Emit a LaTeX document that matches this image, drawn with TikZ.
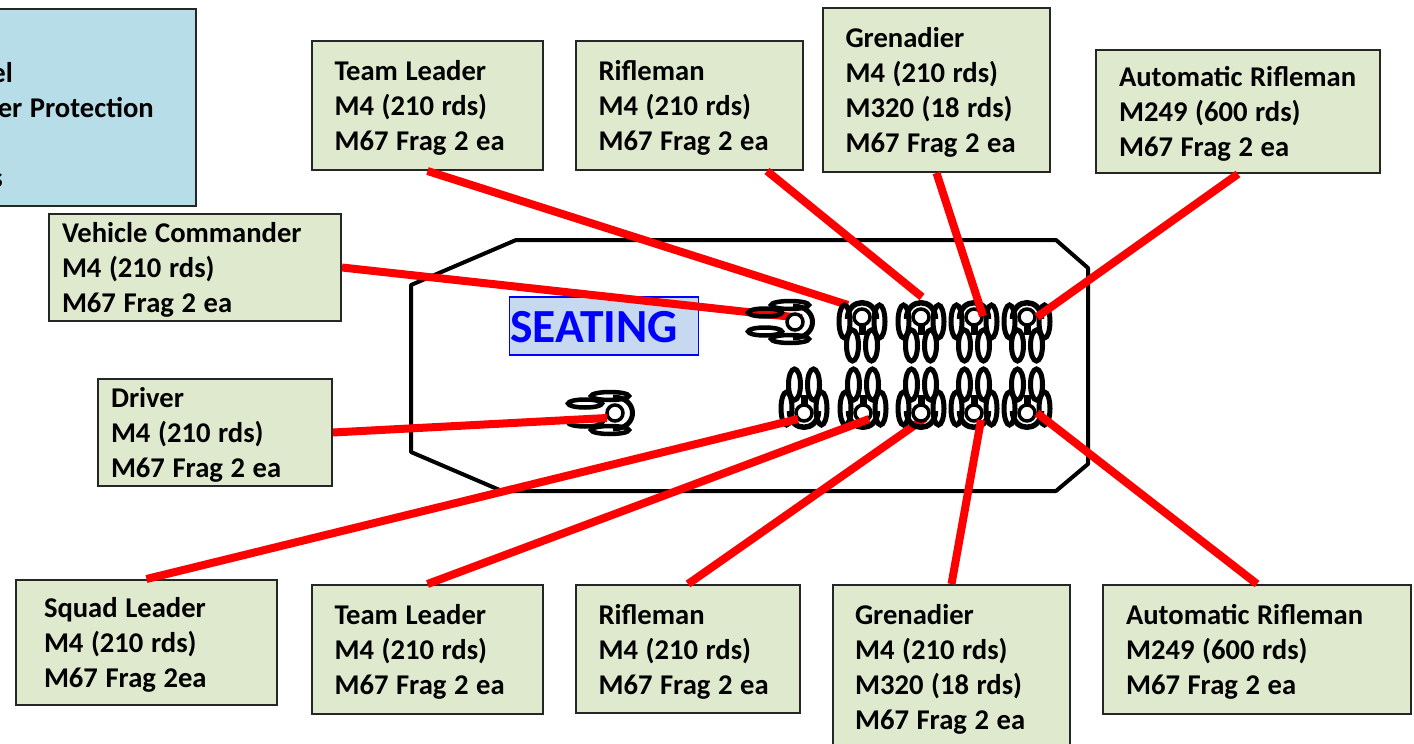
\documentclass[tikz,border=0pt]{standalone}
\usepackage{fontspec}
\setmainfont{Carlito}[BoldFont={Carlito Bold}]
\definecolor{boxgreen}{HTML}{DFE9CD}
\definecolor{boxblue}{HTML}{B7DDE8}
\definecolor{seatfill}{HTML}{C6D9F0}
\newcommand{\labelfont}{\bfseries\fontsize{28.6}{35}\selectfont}
\tikzset{
  gbox/.style n args={3}{draw=black!85,line width=2pt,fill=boxgreen,minimum width=#1,minimum height=#2,
    text width=#1-2*#3,inner xsep=#3,inner ysep=0pt,align=left,
    font=\labelfont,text=black,execute at begin node={\spaceskip=7.6pt\relax\hyphenpenalty=10000\relax\rule{0pt}{25pt}}},
  wire/.style={draw=red,line width=8pt},
  hull/.style={draw=black,line width=4pt,line join=round},
  limb/.style={draw=black,line width=5pt},
  frag/.style={font=\labelfont,text=black,anchor=base east,inner sep=0pt,execute at begin node={\spaceskip=7.6pt\relax}},
  seat/.pic={
    \draw[limb] (-17.5,4.5) circle[x radius=5.5,y radius=16.5];
    \draw[limb] (17.5,4.5) circle[x radius=5.5,y radius=16.5];
    \draw[limb] (-9.5,28.5) circle[x radius=6,y radius=15.5];
    \draw[limb] (9.5,28.5) circle[x radius=6,y radius=15.5];
    \draw[draw=black,line width=5.5pt] (-14.5,2) .. controls (-14.5,-19.7) and (14.5,-19.7) .. (14.5,2);
    \draw[draw=black,line width=7pt] (0,8) -- (0,18);
    \draw[draw=black,line width=3.5pt,fill=white] (0,0) circle[radius=8];
  },
  frontseat/.pic={
    \draw[draw=black,line width=4.5pt] (-17,5) circle[x radius=4,y radius=19];
    \draw[draw=black,line width=4.5pt] (17,5) circle[x radius=4,y radius=19];
    \draw[draw=black,line width=4.5pt] (-9.5,30) circle[x radius=4,y radius=17];
    \draw[draw=black,line width=4.5pt] (9.5,30) circle[x radius=4,y radius=17];
    \draw[draw=black,line width=5pt] (-16,2) .. controls (-16,-24) and (16,-24) .. (16,2);
    \draw[draw=black,line width=3.5pt,fill=white] (0,0) circle[radius=8];
  }
}
\begin{document}
\begin{tikzpicture}[x=1pt,y=-1pt]
\useasboundingbox (0,0) rectangle (1414,744);
\clip (0,0) rectangle (1414,744);
% vehicle
\path[hull] (411,285) -- (516,240) -- (1056,240) -- (1088,268) -- (1088,464) -- (1056,491) -- (502,491) -- (411,452) -- cycle;
% seating label
\node[draw=blue,line width=1.5pt,fill=seatfill,minimum width=189pt,minimum height=58pt,inner sep=0pt] (seating) at (604,326) {};
\node[text=blue,font=\bfseries\fontsize{47.5}{48}\selectfont,anchor=west,inner sep=0pt] (seatingtext) at (510,327) {SEATING};
% side panel
\node[draw=black!85,line width=2pt,fill=boxblue,minimum width=236pt,minimum height=197pt,inner sep=0pt] (panel) at (78,107.5) {};
\node[frag] (p1) at (13,82) {el};
\node[frag] (p2) at (154,117) {er Protection};
\node[frag] (p3) at (3,187) {s};
% boxes
\node[gbox={231pt}{129pt}{22.5pt}] (tla) at (427.5,105.5) {Team Leader\\M4 (210 rds)\\M67 Frag 2 ea};
\node[gbox={227pt}{129pt}{22.5pt}] (rfa) at (689.5,105.5) {Rifleman\\M4 (210 rds)\\M67 Frag 2 ea};
\node[gbox={227pt}{164pt}{22.5pt}] (gra) at (936.5,90) {Grenadier\\M4 (210 rds)\\M320 (18 rds)\\M67 Frag 2 ea};
\node[gbox={284pt}{123pt}{23pt}] (ara) at (1238,111.5) {Automatic Rifleman\\M249 (600 rds)\\M67 Frag 2 ea};
\node[gbox={292pt}{107pt}{13pt}] (vc) at (195,267.5) {Vehicle Commander\\M4 (210 rds)\\M67 Frag 2 ea};
\node[gbox={234pt}{107pt}{13pt}] (dr) at (215,432.5) {Driver\\M4 (210 rds)\\M67 Frag 2 ea};
\node[gbox={261pt}{125pt}{28pt}] (sl) at (146.5,642.5) {Squad Leader\\M4 (210 rds)\\M67 Frag 2ea};
\node[gbox={231pt}{129pt}{22.5pt}] (tlb) at (427.5,649.5) {Team Leader\\M4 (210 rds)\\M67 Frag 2 ea};
\node[gbox={224pt}{128pt}{22.5pt}] (rfb) at (688,649) {Rifleman\\M4 (210 rds)\\M67 Frag 2 ea};
\node[gbox={237pt}{164pt}{22pt}] (grb) at (951.5,667) {Grenadier\\M4 (210 rds)\\M320 (18 rds)\\M67 Frag 2 ea};
\node[gbox={308pt}{129pt}{23pt}] (arb) at (1257,649.5) {Automatic Rifleman\\M249 (600 rds)\\M67 Frag 2 ea};
% connector ends
\coordinate (evc) at (802,318);
\coordinate (etla) at (848,305);
\coordinate (erfa) at (922,297);
\coordinate (egra) at (983,316);
\coordinate (eara) at (1037,317);
\coordinate (edr) at (607,418);
\coordinate (esl) at (798,419);
\coordinate (etlb) at (869,419);
\coordinate (erfb) at (925,418);
\coordinate (egrb) at (981,420);
\coordinate (earb) at (1037,413);
% connectors behind the seats
\draw[wire] (vc.east) -- (evc);
\draw[wire] (tla.south) -- (etla);
\draw[wire] ([xshift=77.5pt]rfa.south) -- (erfa);
\draw[wire] (rfb.north) -- (erfb);
% seats
\foreach \sx in {862,921,974,1027} \pic at (\sx,317) {seat};
\foreach \sx in {804,863,921,974,1027} \pic[rotate=180] at (\sx,413) {seat};
\pic[rotate=-90] at (795,322) {frontseat};
\pic[rotate=-90] at (615,413) {frontseat};
% connectors over the seats
\draw[wire] (gra.south) -- (egra);
\draw[wire] (ara.south) -- (eara);
\draw[wire] (dr.east) -- (edr);
\draw[wire] (sl.north) -- (esl);
\draw[wire] (tlb.north) -- (etlb);
\draw[wire] (grb.north) -- (egrb);
\draw[wire] (arb.north) -- (earb);
\end{tikzpicture}
\end{document}
